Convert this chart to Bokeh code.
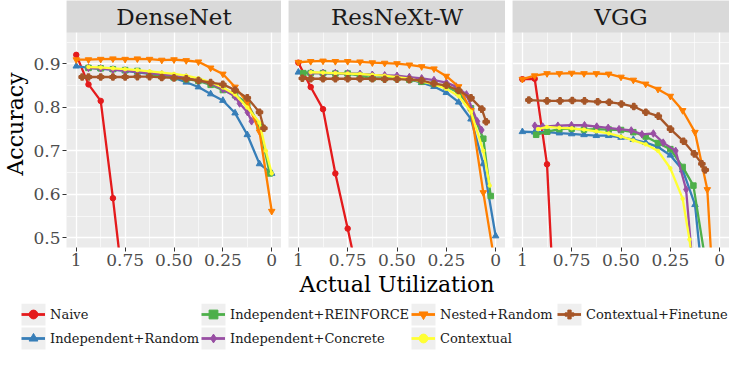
from bokeh.plotting import figure
from bokeh.models import Range1d, FixedTicker, BoxAnnotation, Label, Legend, LegendItem
from bokeh.layouts import row, column
from bokeh.embed import file_html
from bokeh.resources import INLINE

# ---------------- data ----------------
PANELS = ["DenseNet", "ResNeXt-W", "VGG"]
METHODS = ["Naive", "Independent+Random", "Independent+REINFORCE", "Independent+Concrete",
           "Nested+Random", "Contextual", "Contextual+Finetune"]
UTIL = [1, 0.9375, 0.875, 0.8125, 0.75, 0.6875, 0.625, 0.5625, 0.5, 0.4375,
        0.375, 0.3125, 0.25, 0.1875, 0.125, 0.0625, 0]
X_TICKS = [1, 0.75, 0.5, 0.25, 0]
X_TICK_LABELS = ["1", "0.75", "0.50", "0.25", "0"]
X_MINOR = [0.875, 0.625, 0.375, 0.125]
Y_TICKS = [0.5, 0.6, 0.7, 0.8, 0.9]
Y_MINOR = [0.55, 0.65, 0.75, 0.85, 0.95]

# DenseNet
DN_NAIVE_X = [1, 0.9375, 0.875, 0.8125, 0.75, 0.6875]
DN_NAIVE_Y = [0.921, 0.853, 0.815, 0.591, 0.35, 0.20]
DN_IRAND_X = UTIL
DN_IRAND_Y = [0.895, 0.891, 0.889, 0.887, 0.884, 0.881, 0.877, 0.873, 0.868, 0.858,
              0.847, 0.831, 0.816, 0.787, 0.737, 0.670, 0.648]
DN_REINF_X = [0.9375, 0.875, 0.8125, 0.75, 0.6875, 0.625, 0.5625, 0.5, 0.4375, 0.375,
              0.3125, 0.25, 0.1875, 0.125, 0.0625, 0.01]
DN_REINF_Y = [0.891, 0.890, 0.888, 0.886, 0.884, 0.877, 0.872, 0.869, 0.865, 0.861,
              0.852, 0.840, 0.828, 0.810, 0.757, 0.648]
DN_CONC_X = [0.9375, 0.875, 0.8125, 0.75, 0.6875, 0.625, 0.5625, 0.5, 0.4375, 0.375,
             0.3125, 0.25, 0.1875, 0.164, 0.124, 0.103]
DN_CONC_Y = [0.891, 0.890, 0.887, 0.885, 0.882, 0.879, 0.876, 0.873, 0.869, 0.863,
             0.855, 0.842, 0.825, 0.809, 0.789, 0.768]
DN_NEST_X = UTIL
DN_NEST_Y = [0.910, 0.910, 0.911, 0.912, 0.911, 0.912, 0.911, 0.909, 0.910, 0.908,
             0.905, 0.891, 0.877, 0.847, 0.812, 0.744, 0.561]
DN_CTX_X = [0.9375, 0.875, 0.8125, 0.75, 0.6875, 0.625, 0.5625, 0.5, 0.4375, 0.375,
            0.3125, 0.25, 0.1875, 0.125, 0.0625, 0.03, 0.0]
DN_CTX_Y = [0.893, 0.892, 0.890, 0.888, 0.886, 0.883, 0.880, 0.877, 0.873, 0.867,
            0.858, 0.846, 0.830, 0.800, 0.765, 0.700, 0.648]
DN_FT_X = [0.97, 0.9375, 0.875, 0.8125, 0.75, 0.6875, 0.625, 0.5625, 0.5, 0.4375,
           0.375, 0.3125, 0.25, 0.1875, 0.125, 0.0625, 0.04]
DN_FT_Y = [0.870, 0.870, 0.870, 0.870, 0.870, 0.871, 0.871, 0.869, 0.868, 0.866,
           0.862, 0.857, 0.853, 0.840, 0.822, 0.789, 0.752]

# ResNeXt-W
RX_NAIVE_X = [1, 0.9375, 0.875, 0.8125, 0.75, 0.6875]
RX_NAIVE_Y = [0.903, 0.847, 0.796, 0.648, 0.521, 0.39]
RX_IRAND_X = UTIL
RX_IRAND_Y = [0.881, 0.880, 0.879, 0.879, 0.878, 0.877, 0.875, 0.872, 0.869, 0.865,
              0.857, 0.848, 0.834, 0.812, 0.773, 0.670, 0.504]
RX_REINF_X = [0.975, 0.9375, 0.875, 0.8125, 0.75, 0.6875, 0.625, 0.5625, 0.5, 0.4375,
              0.375, 0.3125, 0.25, 0.1875, 0.125, 0.0625, 0.025]
RX_REINF_Y = [0.879, 0.879, 0.879, 0.878, 0.878, 0.873, 0.867, 0.867, 0.867, 0.864,
              0.859, 0.854, 0.848, 0.834, 0.798, 0.728, 0.596]
RX_CONC_X = [0.9375, 0.875, 0.8125, 0.75, 0.6875, 0.625, 0.5625, 0.5, 0.4375, 0.375,
             0.3125, 0.25, 0.2, 0.148, 0.093, 0.071]
RX_CONC_Y = [0.879, 0.879, 0.879, 0.878, 0.877, 0.875, 0.874, 0.873, 0.870, 0.867,
             0.863, 0.857, 0.848, 0.830, 0.768, 0.748]
RX_NEST_X = UTIL
RX_NEST_Y = [0.904, 0.906, 0.907, 0.906, 0.906, 0.905, 0.903, 0.902, 0.901, 0.898,
             0.894, 0.889, 0.872, 0.848, 0.793, 0.604, 0.43]
RX_CTX_X = [0.9375, 0.875, 0.8125, 0.75, 0.6875, 0.625, 0.5625, 0.5, 0.4375, 0.375,
            0.3125, 0.25, 0.1875, 0.125, 0.0625, 0.03]
RX_CTX_Y = [0.881, 0.880, 0.879, 0.878, 0.877, 0.875, 0.873, 0.870, 0.866, 0.860,
            0.853, 0.843, 0.826, 0.790, 0.700, 0.620]
RX_FT_X = [0.98, 0.9375, 0.875, 0.8125, 0.75, 0.6875, 0.625, 0.5625, 0.5, 0.4375,
           0.375, 0.3125, 0.25, 0.1875, 0.125, 0.07, 0.048]
RX_FT_Y = [0.867, 0.866, 0.866, 0.866, 0.866, 0.866, 0.866, 0.865, 0.865, 0.864,
           0.862, 0.855, 0.851, 0.839, 0.822, 0.796, 0.767]

# VGG
VG_NAIVE_X = [1, 0.9375, 0.875, 0.8125]
VG_NAIVE_Y = [0.865, 0.866, 0.669, 0.10]
VG_IRAND_X = UTIL[:16]
VG_IRAND_Y = [0.744, 0.743, 0.743, 0.741, 0.739, 0.737, 0.735, 0.735, 0.731, 0.726,
              0.719, 0.709, 0.690, 0.656, 0.576, 0.30]
VG_REINF_X = [0.93, 0.875, 0.8125, 0.75, 0.6875, 0.625, 0.5625, 0.5, 0.4375, 0.375,
              0.3125, 0.25, 0.1875, 0.133, 0.0625]
VG_REINF_Y = [0.737, 0.744, 0.750, 0.751, 0.749, 0.750, 0.749, 0.748, 0.743, 0.733,
              0.718, 0.704, 0.663, 0.620, 0.42]
VG_CONC_X = [0.937, 0.897, 0.82, 0.751, 0.685, 0.623, 0.565, 0.51, 0.448, 0.394,
             0.336, 0.286, 0.223, 0.17, 0.125]
VG_CONC_Y = [0.758, 0.756, 0.758, 0.759, 0.759, 0.756, 0.753, 0.750, 0.747, 0.738,
             0.740, 0.719, 0.700, 0.611, 0.37]
VG_NEST_X = [1, 0.9375, 0.875, 0.8125, 0.75, 0.6875, 0.625, 0.5625, 0.5, 0.4375,
             0.375, 0.3125, 0.25, 0.1875, 0.125, 0.0625, 0.03]
VG_NEST_Y = [0.865, 0.873, 0.878, 0.878, 0.879, 0.878, 0.878, 0.877, 0.870, 0.863,
             0.854, 0.842, 0.826, 0.793, 0.743, 0.611, 0.36]
VG_CTX_X = [0.92, 0.875, 0.8125, 0.75, 0.6875, 0.625, 0.5625, 0.5, 0.4375, 0.375,
            0.3125, 0.25, 0.1875, 0.153, 0.125]
VG_CTX_Y = [0.750, 0.755, 0.753, 0.752, 0.749, 0.745, 0.740, 0.733, 0.724, 0.715,
            0.700, 0.660, 0.590, 0.496, 0.40]
VG_FT_X = [0.967, 0.875, 0.809, 0.747, 0.685, 0.618, 0.56, 0.498, 0.435, 0.374,
           0.311, 0.249, 0.183, 0.128, 0.09, 0.073]
VG_FT_Y = [0.817, 0.815, 0.815, 0.816, 0.815, 0.813, 0.812, 0.808, 0.802, 0.789,
           0.780, 0.750, 0.722, 0.693, 0.670, 0.656]

PANEL_SERIES = {
    "DenseNet": [(DN_NAIVE_X, DN_NAIVE_Y), (DN_IRAND_X, DN_IRAND_Y), (DN_REINF_X, DN_REINF_Y),
                 (DN_CONC_X, DN_CONC_Y), (DN_NEST_X, DN_NEST_Y), (DN_CTX_X, DN_CTX_Y),
                 (DN_FT_X, DN_FT_Y)],
    "ResNeXt-W": [(RX_NAIVE_X, RX_NAIVE_Y), (RX_IRAND_X, RX_IRAND_Y), (RX_REINF_X, RX_REINF_Y),
                  (RX_CONC_X, RX_CONC_Y), (RX_NEST_X, RX_NEST_Y), (RX_CTX_X, RX_CTX_Y),
                  (RX_FT_X, RX_FT_Y)],
    "VGG": [(VG_NAIVE_X, VG_NAIVE_Y), (VG_IRAND_X, VG_IRAND_Y), (VG_REINF_X, VG_REINF_Y),
            (VG_CONC_X, VG_CONC_Y), (VG_NEST_X, VG_NEST_Y), (VG_CTX_X, VG_CTX_Y),
            (VG_FT_X, VG_FT_Y)],
}

# ---------------- styles / layout ----------------
COLORS = ["#e41a1c", "#377eb8", "#4daf4a", "#984ea3", "#ff7f00", "#ffff33", "#a65628"]
MARKERS = ["circle", "triangle", "square", "diamond", "inverted_triangle", "circle", "plus"]
MARKER_SIZES = [5.5, 6.5, 5.5, 7.5, 6.5, 3.5, 6]
LEG_MARKER_SIZES = [4, 5, 4, 5, 5, 3, 5]
FONT = "DejaVu Serif"

FRAME_W = 217
STRIP_PX = 32
PANEL_PX = 215
BOTTOM_PX = 56
LEFT_FIRST = 64
GAP = 7
X_START, X_END = 1.05, -0.05
Y_LO, Y_HI = 0.4775, 0.9725
Y_END = Y_HI + STRIP_PX * (Y_HI - Y_LO) / PANEL_PX
STRIP_MID = (Y_HI + Y_END) / 2
FIG_H = STRIP_PX + PANEL_PX + BOTTOM_PX


def make_panel(name, first, xlabel):
    left = LEFT_FIRST if first else GAP
    p = figure(width=left + FRAME_W, height=FIG_H,
               x_range=Range1d(X_START, X_END), y_range=Range1d(Y_LO, Y_END),
               y_axis_location="left" if first else None,
               output_backend="svg", toolbar_location=None,
               min_border_left=left, min_border_right=0, min_border_top=0,
               min_border_bottom=BOTTOM_PX)
    p.background_fill_color = "#ebebeb"
    p.border_fill_color = "white"
    p.outline_line_color = None

    p.xgrid.ticker = FixedTicker(ticks=X_TICKS, minor_ticks=X_MINOR)
    p.ygrid.ticker = FixedTicker(ticks=Y_TICKS, minor_ticks=Y_MINOR)
    for g in (p.xgrid, p.ygrid):
        g.grid_line_color = "white"
        g.grid_line_width = 1.3
        g.minor_grid_line_color = "white"
        g.minor_grid_line_width = 0.6

    axes = [p.xaxis[0]] + ([p.yaxis[0]] if first else [])
    for ax in axes:
        ax.axis_line_color = None
        ax.major_tick_line_color = "#333333"
        ax.major_tick_in = 0
        ax.major_tick_out = 4
        ax.minor_tick_line_color = None
        ax.major_label_text_font = FONT
        ax.major_label_text_font_size = "17px"
        ax.major_label_text_color = "#4d4d4d"
        ax.major_label_standoff = 2
        ax.axis_label_text_font = FONT
        ax.axis_label_text_font_style = "normal"
        ax.axis_label_text_color = "black"
        ax.axis_label_standoff = 3

    p.xaxis.ticker = FixedTicker(ticks=X_TICKS)
    p.xaxis.major_label_overrides = {float(t): lab for t, lab in zip(X_TICKS, X_TICK_LABELS)}
    if xlabel:
        p.xaxis.axis_label = xlabel
        p.xaxis.axis_label_text_font_size = "22px"
    if first:
        p.yaxis.ticker = FixedTicker(ticks=Y_TICKS)
        p.yaxis.axis_label = "Accuracy"
        p.yaxis.axis_label_text_font_size = "22px"
        p.yaxis.axis_label_standoff = 2

    for i, (xs, ys) in enumerate(PANEL_SERIES[name]):
        p.line(xs, ys, line_color=COLORS[i], line_width=2.3)
        p.scatter(xs, ys, marker=MARKERS[i], size=MARKER_SIZES[i],
                  fill_color=COLORS[i], line_color=COLORS[i],
                  line_width=1.6 if MARKERS[i] == "plus" else 1)

    # facet strip
    p.add_layout(BoxAnnotation(bottom=Y_HI, fill_color="#d9d9d9", fill_alpha=1.0,
                               line_color=None))
    p.add_layout(Label(x=(X_START + X_END) / 2, y=STRIP_MID, text=name,
                       text_align="center", text_baseline="middle",
                       text_font=FONT, text_font_size="23px", text_color="#1a1a1a"))
    return p


p1 = make_panel(PANELS[0], True, None)
p2 = make_panel(PANELS[1], False, "Actual Utilization")
p3 = make_panel(PANELS[2], False, None)

# ---------------- legend strip ----------------
LEG_W = LEFT_FIRST + 3 * FRAME_W + 2 * GAP
LEG_H = 47
KEY_W, KEY_H, KEY_SP = 24, 22, 2
LEG_COLS = [[0, 1], [2, 3], [4, 5], [6]]
LEG_X = [21, 201, 411, 557]

leg = figure(width=LEG_W, height=LEG_H, x_range=Range1d(0, LEG_W), y_range=Range1d(0, LEG_H),
             x_axis_location=None, y_axis_location=None, output_backend="svg",
             toolbar_location=None, min_border=0)
leg.grid.visible = False
leg.outline_line_color = None
leg.background_fill_color = "white"
leg.border_fill_color = "white"

# key backgrounds (grey95 squares behind each legend key)
for col, x0 in zip(LEG_COLS, LEG_X):
    n = len(col)
    tops = [LEG_H - k * (KEY_H + KEY_SP) for k in range(n)]
    leg.quad(left=[x0] * n, right=[x0 + KEY_W] * n, top=tops,
             bottom=[t - KEY_H for t in tops], fill_color="#efefef", line_color=None)

# legend-only renderers: a single point placed outside the visible range
dummy = []
for i in range(len(METHODS)):
    rl = leg.line(x=[-50, -40], y=[-50, -50], line_color=COLORS[i], line_width=2.8)
    rs = leg.scatter(x=[-50], y=[-50], marker=MARKERS[i], size=LEG_MARKER_SIZES[i],
                     fill_color=COLORS[i], line_color=COLORS[i])
    dummy.append((rl, rs))

for col, x0 in zip(LEG_COLS, LEG_X):
    n = len(col)
    items = [LegendItem(label=METHODS[i], renderers=list(dummy[i])) for i in col]
    lg = Legend(items=items, location=(x0, LEG_H - n * KEY_H - (n - 1) * KEY_SP),
                orientation="vertical", glyph_width=KEY_W, glyph_height=KEY_H,
                label_standoff=5, spacing=KEY_SP, padding=0, margin=0,
                label_text_font=FONT, label_text_font_size="13px",
                label_text_color="#1a1a1a", label_height=KEY_H,
                border_line_color=None, background_fill_alpha=0)
    leg.add_layout(lg)

layout = column(row(p1, p2, p3), leg)
open("out.html", "w").write(file_html(layout, INLINE))
